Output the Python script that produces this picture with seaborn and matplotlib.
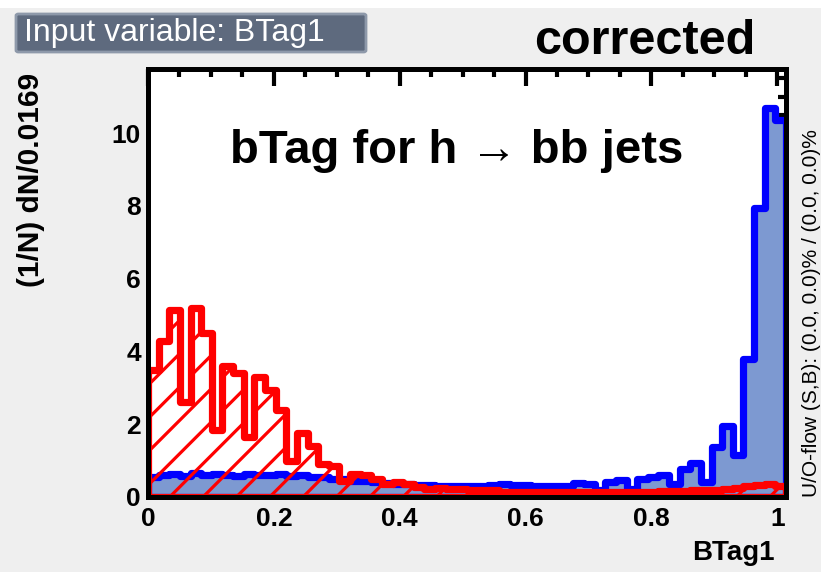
import numpy as np
import matplotlib
matplotlib.use("Agg")
import matplotlib.pyplot as plt
import seaborn as sns
from matplotlib.ticker import MultipleLocator
from matplotlib.patches import FancyBboxPatch, Rectangle

# Binning of the BTag1 input variable
n_bins = 60
bin_width = 0.0169
x_min = 0.0

# Normalised signal (h -> bb jets) per bin
signal = [
    0.55, 0.60, 0.62, 0.58, 0.65, 0.60, 0.62, 0.60, 0.58, 0.62,
    0.60, 0.60, 0.62, 0.58, 0.60, 0.55, 0.55, 0.50, 0.50, 0.45,
    0.45, 0.40, 0.38, 0.36, 0.35, 0.33, 0.32, 0.30, 0.30, 0.30,
    0.30, 0.30, 0.32, 0.35, 0.34, 0.34, 0.30, 0.30, 0.30, 0.30,
    0.38, 0.37, 0.20, 0.40, 0.46, 0.22, 0.50, 0.55, 0.61, 0.35,
    0.78, 0.93, 0.40, 1.37, 1.95, 1.15, 3.80, 7.95, 10.70, 10.35,
]

# Normalised background per bin
background = [
    3.50, 4.30, 5.15, 2.60, 5.20, 4.50, 1.85, 3.60, 3.40, 1.65,
    3.30, 2.94, 2.40, 1.00, 1.75, 1.40, 0.90, 0.85, 0.45, 0.62,
    0.60, 0.50, 0.35, 0.42, 0.36, 0.28, 0.22, 0.24, 0.22, 0.21,
    0.20, 0.20, 0.18, 0.15, 0.14, 0.14, 0.14, 0.14, 0.14, 0.14,
    0.14, 0.14, 0.13, 0.14, 0.13, 0.14, 0.15, 0.15, 0.16, 0.16,
    0.17, 0.18, 0.18, 0.20, 0.22, 0.25, 0.30, 0.32, 0.35, 0.30,
]

x_ticks = [0, 0.2, 0.4, 0.6, 0.8, 1]
x_tick_labels = ["0", "0.2", "0.4", "0.6", "0.8", "1"]
y_ticks = [0, 2, 4, 6, 8, 10]
y_tick_labels = ["0", "2", "4", "6", "8", "10"]

edges = x_min + bin_width * np.arange(n_bins + 1)
centers = 0.5 * (edges[:-1] + edges[1:])
bin_edges = edges.tolist()

sns.set_theme(style="white")
plt.rcParams["font.family"] = ["Liberation Sans", "DejaVu Sans"]
plt.rcParams["text.color"] = "black"
plt.rcParams["xtick.color"] = "black"
plt.rcParams["ytick.color"] = "black"
plt.rcParams["hatch.linewidth"] = 2.3
plt.rcParams["hatch.color"] = "#ff0000"

W, H = 821, 572
fig = plt.figure(figsize=(W / 100, H / 100), dpi=100, facecolor="#efefef")

def fx(px):
    return px / W

def fy(py):
    return 1 - py / H

ax_left, ax_right, ax_top, ax_bottom = 148, 786, 69, 497
ax = fig.add_axes([fx(ax_left), fy(ax_bottom), fx(ax_right - ax_left), (ax_bottom - ax_top) / H])
ax.set_facecolor("white")

# Signal: solid light-blue fill with a thick blue outline
sns.histplot(x=centers, weights=signal, bins=bin_edges, element="step", fill=True,
             color="#0000ff", facecolor="#7d99d1", edgecolor="#0000ff",
             linewidth=5.2, alpha=1, ax=ax, zorder=2)
# Background: red hatched, no fill
sns.histplot(x=centers, weights=background, bins=bin_edges, element="step", fill=True,
             color="#ff0000", facecolor="none", edgecolor="#ff0000",
             linewidth=5.2, hatch="/", ax=ax, zorder=3)

ax.set_xlim(edges[0], edges[-1])
ax.set_ylim(0, 11.76)
ax.set_xlabel("")
ax.set_ylabel("")

ax.set_xticks(x_ticks)
ax.set_xticklabels(x_tick_labels)
ax.set_yticks(y_ticks)
ax.set_yticklabels(y_tick_labels)
ax.xaxis.set_minor_locator(MultipleLocator(0.05))
ax.yaxis.set_minor_locator(MultipleLocator(0.5))
ax.tick_params(which="both", direction="in", top=True, right=True,
               color="black", width=3)
ax.tick_params(which="major", length=12)
ax.tick_params(which="minor", length=6)
ax.tick_params(axis="x", which="major", pad=7, labelsize=19)
ax.tick_params(axis="y", which="major", pad=5, labelsize=19)
for lab in ax.get_xticklabels() + ax.get_yticklabels():
    lab.set_fontweight("bold")
    lab.set_color("black")

for sp in ax.spines.values():
    sp.set_linewidth(3.6)
    sp.set_color("black")
    sp.set_zorder(10)

# Texts
ax.text(0.128, 0.808, "bTag for h \u2192 bb jets", transform=ax.transAxes,
        fontsize=34, fontweight="bold", ha="left", va="center", zorder=12)

fig.text(fx(775), fy(566), "BTag1", fontsize=20, fontweight="bold",
         ha="right", va="bottom")
fig.text(fx(31), fy(73), "(1/N) dN/0.0169", fontsize=21.5, fontweight="bold",
         rotation=90, ha="center", va="top")
fig.text(fx(811), fy(497), "U/O-flow (S,B): (0.0, 0.0)% / (0.0, 0.0)%",
         fontsize=15, rotation=90, ha="center", va="bottom")

# Header band and title box
fig.patches.append(Rectangle((0, fy(8)), 1, 8 / H, transform=fig.transFigure,
                             facecolor="white", edgecolor="none"))
fig.patches.append(FancyBboxPatch((fx(16), fy(52)), fx(350), 38 / H,
                                  boxstyle="round,pad=0,rounding_size=0.003",
                                  transform=fig.transFigure,
                                  facecolor="#5e6a7e", edgecolor="#8e99aa",
                                  linewidth=2))
fig.text(fx(24), fy(33), "Input variable: BTag1", fontsize=23, color="white",
         ha="left", va="center")
fig.text(fx(645), fy(42), "corrected", fontsize=35, fontweight="bold",
         ha="center", va="center")

fig.savefig("out.png", dpi=100, facecolor=fig.get_facecolor())
